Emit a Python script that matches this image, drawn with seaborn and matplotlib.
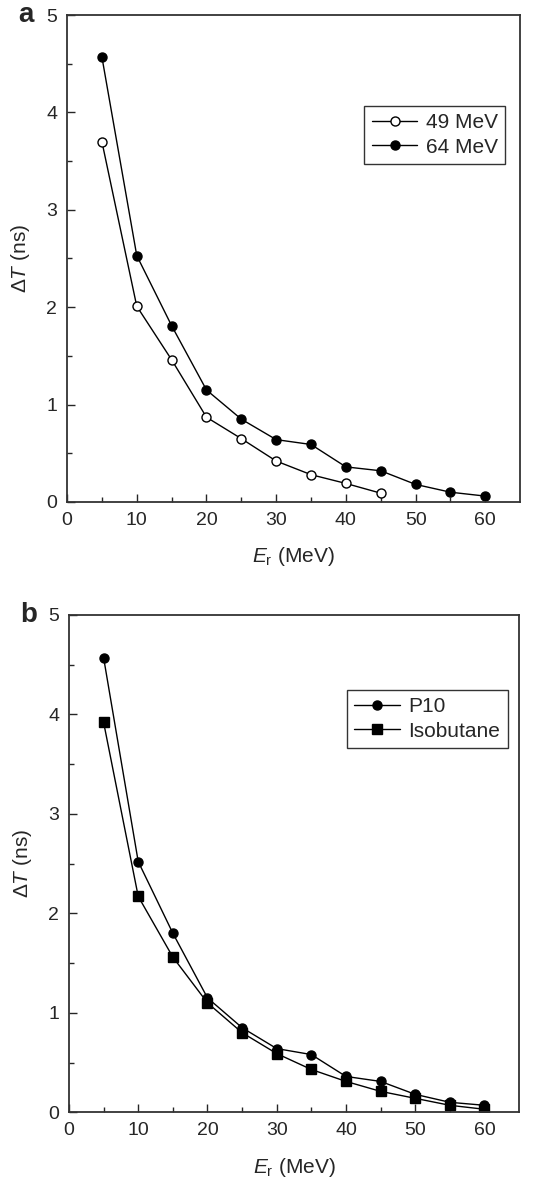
import numpy as np
import pandas as pd
import matplotlib
matplotlib.use('Agg')
import matplotlib.pyplot as plt
import seaborn as sns

# recoil energy (MeV)
er_a49 = [5, 10, 15, 20, 25, 30, 35, 40, 45]
dt_49 = [3.70, 2.01, 1.46, 0.87, 0.65, 0.42, 0.28, 0.19, 0.09]
er_a64 = [5, 10, 15, 20, 25, 30, 35, 40, 45, 50, 55, 60]
dt_64 = [4.57, 2.53, 1.81, 1.15, 0.85, 0.64, 0.59, 0.36, 0.32, 0.18, 0.10, 0.06]

er_b = [5, 10, 15, 20, 25, 30, 35, 40, 45, 50, 55, 60]
dt_p10 = [4.57, 2.52, 1.80, 1.15, 0.85, 0.64, 0.58, 0.36, 0.31, 0.18, 0.10, 0.07]
dt_iso = [3.92, 2.17, 1.56, 1.10, 0.80, 0.59, 0.43, 0.31, 0.21, 0.14, 0.07, 0.03]

x_ticks = [0, 10, 20, 30, 40, 50, 60]
y_ticks = [0, 1, 2, 3, 4, 5]

sns.set_style('ticks')
plt.rcParams['font.family'] = ['Liberation Sans', 'DejaVu Sans']
plt.rcParams['mathtext.fontset'] = 'custom'
plt.rcParams['mathtext.rm'] = 'Liberation Sans'
plt.rcParams['mathtext.it'] = 'Liberation Sans:italic'
plt.rcParams['mathtext.bf'] = 'Liberation Sans:bold'

fig = plt.figure(figsize=(5.54, 11.83), dpi=100)
ax_a = fig.add_axes([0.121, 0.5757, 0.818, 0.4116])
ax_b = fig.add_axes([0.1245, 0.0598, 0.8125, 0.4204])


def draw(ax, x, y, label, marker, mfc):
    df = pd.DataFrame({'x': x, 'y': y})
    sns.lineplot(data=df, x='x', y='y', ax=ax, color='black', lw=1.0,
                 marker=marker, markersize=6.5, markerfacecolor=mfc,
                 markeredgecolor='black', markeredgewidth=1.0, label=label)


draw(ax_a, er_a49, dt_49, '49 MeV', 'o', 'white')
draw(ax_a, er_a64, dt_64, '64 MeV', 'o', 'black')
draw(ax_b, er_b, dt_p10, 'P10', 'o', 'black')
draw(ax_b, er_b, dt_iso, 'Isobutane', 's', 'black')

for ax, lab, lpos in [(ax_a, 'a', (0.656, 0.813)), (ax_b, 'b', (0.618, 0.849))]:
    ax.set_xlim(0, 65)
    ax.set_ylim(0, 5)
    ax.set_xticks(x_ticks)
    ax.set_yticks(y_ticks)
    ax.set_xticks(np.arange(5, 65, 10), minor=True)
    ax.set_yticks(np.arange(0.5, 5, 1), minor=True)
    ax.tick_params(which='both', direction='in', top=False, right=False,
                   labelsize=14, width=1.0, pad=7)
    ax.tick_params(which='major', length=6)
    ax.tick_params(which='minor', length=3.5)
    for s in ax.spines.values():
        s.set_linewidth(1.3)
        s.set_color('#333333')
    ax.set_xlabel(r'$\mathit{E}_{\mathrm{r}}$ (MeV)', fontsize=15, labelpad=12)
    ax.set_ylabel(r'$\Delta\mathit{T}$ (ns)', fontsize=15, labelpad=10)
    leg = ax.legend(loc='upper left', bbox_to_anchor=lpos, fontsize=15,
                    frameon=True, fancybox=False, edgecolor='black',
                    handlelength=2.2, handletextpad=0.4, borderpad=0.35,
                    labelspacing=0.25, borderaxespad=0)
    leg.get_frame().set_linewidth(1.0)
    ax.text(-0.108, 1.0, lab, transform=ax.transAxes, fontsize=20,
            fontweight='bold', ha='left', va='center')

fig.savefig('out.png', dpi=100)
